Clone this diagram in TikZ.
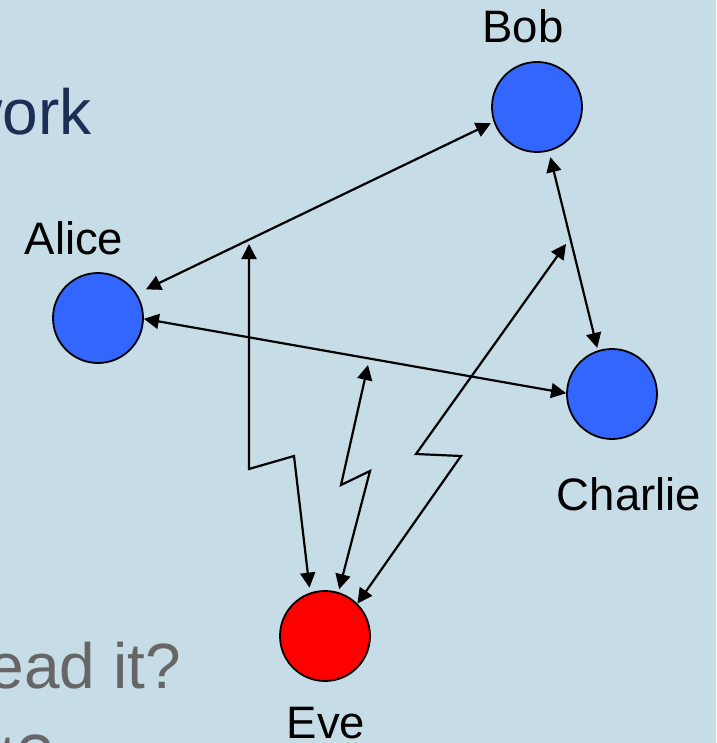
\documentclass[tikz,border=0pt]{standalone}
\usepackage{fontspec}
\setmainfont{Liberation Sans}
\usetikzlibrary{arrows.meta}
\definecolor{slidebg}{RGB}{198,220,230}
\definecolor{nodeblue}{RGB}{51,102,255}
\definecolor{evered}{RGB}{255,0,0}
\definecolor{titlenavy}{RGB}{27,46,85}
\definecolor{bodygray}{RGB}{102,102,102}
\tikzset{
  party/.style={circle, draw=black, line width=1.8pt, minimum size=90pt, inner sep=0pt, fill=nodeblue},
  spy/.style={party, fill=evered},
  partylabel/.style={font=\fontsize{45.5}{50}\selectfont, inner sep=0pt, anchor=base},
  slidetext/.style={font=\fontsize{64}{70}\selectfont, inner sep=0pt, anchor=base east},
  link/.style={line width=2.2pt, {Triangle[length=15pt,width=15pt]}-{Triangle[length=15pt,width=15pt]}},
}
\begin{document}
\begin{tikzpicture}[x=1pt,y=-1pt]
  \clip (0,0) rectangle (716,743);
  \fill[slidebg] (0,0) rectangle (716,743);

  % slide text partly hidden behind the diagram
  \node[slidetext, text=titlenavy] (title) at (92,135) {work};
  \node[slidetext, text=bodygray] (line1) at (181,688) {ead it?};
  \node[slidetext, text=bodygray] (line2) at (53,779) {t?};

  % parties
  \node[party] (alice) at (98,318) {};
  \node[party] (bob) at (537,107) {};
  \node[party] (charlie) at (612,394) {};
  \node[spy] (eve) at (325,636) {};

  \node[partylabel] (alicelbl) at (74,254) {Alice};
  \node[partylabel] (boblbl) at (523,43) {Bob};
  \node[partylabel] (charlielbl) at (629,510) {Charlie};
  \node[partylabel] (evelbl) at (326,738) {Eve};

  % channels between the parties
  \draw[link, shorten <=10pt, shorten >=3pt] (alice.32.5) -- (bob.199);
  \draw[link] (alice.-1) -- (charlie.179);
  \draw[link, shorten <=6pt, shorten >=2.5pt] (bob.-75.4) -- (charlie.108);

  % eavesdropping bolts
  \coordinate (tapAB) at (249,244);
  \coordinate (tapAC) at (368,365);
  \coordinate (tapBC) at (566,244);

  \draw[link, shorten >=5pt] (tapAB) -- (249,469) -- (294,456) -- (eve.109.5);
  \draw[link, shorten >=3pt] (tapAC) -- (341,485) -- (370,471) -- (eve.73.4);
  \draw[link] (tapBC) -- (416,454) -- (461,456) -- (eve.45.9);
\end{tikzpicture}
\end{document}
